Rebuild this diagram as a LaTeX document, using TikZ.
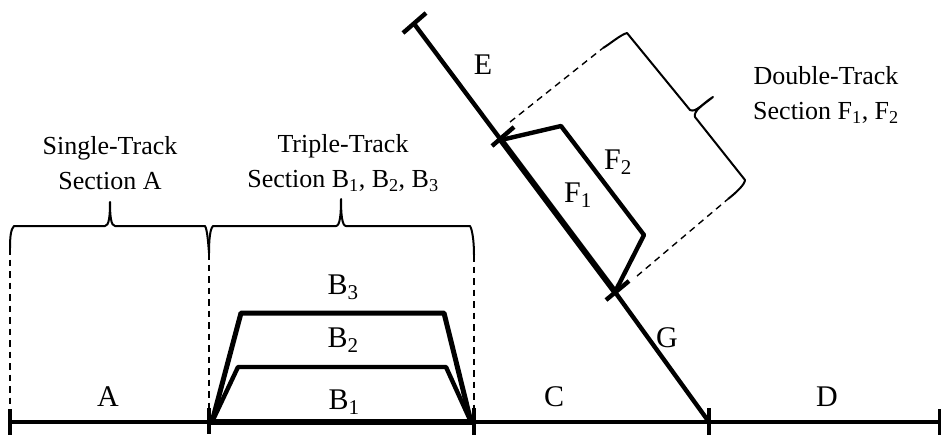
\documentclass[tikz,border=0pt]{standalone}
\usepackage{fontspec}
\setmainfont{Liberation Serif}
\usepackage{tikz}
\usetikzlibrary{positioning}

\begin{document}
\begin{tikzpicture}[
        x=1pt,
        y=-1pt,
        track/.style={line width=4.4pt},
        heavytrack/.style={line width=6pt},
        uppertrack/.style={line width=5pt, line join=round},
        tick/.style={line width=4.4pt},
        guide/.style={line width=1.4pt, dash pattern=on 6.5pt off 5pt},
        bracket/.style={line width=2pt, line join=round},
        seclabel/.style={align=center, font=\fontsize{26}{35}\selectfont, inner sep=0pt},
        tracklabel/.style={font=\fontsize{30}{34}\selectfont, inner sep=0pt}
    ]
        \useasboundingbox (0,0) rectangle (941,436);

        % Main line
        \coordinate (a) at (10,422);
        \coordinate (b) at (209,422);
        \coordinate (c) at (473,422);
        \coordinate (d) at (709,422);
        \coordinate (z) at (940,422);
        \draw[track] (a) -- (b);
        \draw[heavytrack] (b) -- (c);
        \draw[track] (c) -- (d);
        \draw[track] (d) -- (z);

        % Ticks
        \coordinate (a1) at (10,409);
        \coordinate (a2) at (10,435);
        \coordinate (b1) at (209,408);
        \coordinate (b2) at (209,434);
        \coordinate (c1) at (474,408);
        \coordinate (c2) at (474,435);
        \coordinate (d1) at (709,408);
        \coordinate (d2) at (709,435);
        \coordinate (z1) at (940,409);
        \coordinate (z2) at (940,435);
        \draw[tick] (a1) -- (a2);
        \draw[tick] (b1) -- (b2);
        \draw[tick] (c1) -- (c2);
        \draw[tick] (d1) -- (d2);
        \draw[tick] (z1) -- (z2);

        % Triple track
        \coordinate (p1) at (238,367);
        \coordinate (p2) at (446,367);
        \coordinate (q1) at (241,313);
        \coordinate (q2) at (444,313);
        \coordinate (bs) at (212,422);
        \coordinate (cs) at (471,422);
        \draw[track, line join=round] (bs) -- (p1) -- (p2) -- (cs);
        \draw[uppertrack] (bs) -- (q1) -- (q2) -- (cs);

        % Diagonal line
        \coordinate (e) at (415,25);
        \coordinate (e1) at (403,33);
        \coordinate (e2) at (426,13);
        \coordinate (f) at (501,140);
        \coordinate (f1) at (492,146);
        \coordinate (f2) at (514,127);
        \coordinate (g) at (615,292);
        \coordinate (g1) at (606,300);
        \coordinate (g2) at (629,281);
        \draw[tick] (e1) -- (e2);
        \draw[tick] (f1) -- (f2);
        \draw[tick] (g1) -- (g2);
        \draw[track] (e) -- (f);
        \draw[heavytrack] (f) -- (g);
        \draw[track] (g) -- (d);

        % Double track
        \coordinate (r1) at (561,126);
        \coordinate (r2) at (644,235);
        \draw[track, line join=round] (f) -- (r1) -- (r2) -- (g);

        % Dashed guides
        \coordinate (ga) at (10,248);
        \coordinate (gb) at (209,253);
        \coordinate (gc) at (474,255);
        \coordinate (gf1) at (510,122);
        \coordinate (gf2) at (603,48);
        \coordinate (gg1) at (637,276);
        \coordinate (gg2) at (728,199);
        \draw[guide] (ga) -- (a1);
        \draw[guide] (gb) -- (b1);
        \draw[guide] (gc) -- (c1);
        \draw[guide] (gf1) -- (gf2);
        \draw[guide] (gg1) -- (gg2);

        % Braces
        \coordinate (ba) at (14,226);
        \coordinate (ta) at (110,202);
        \coordinate (bb) at (205,226);
        \coordinate (bc) at (213,226);
        \coordinate (tb) at (341,199);
        \coordinate (bd) at (470,226);
        \coordinate (be) at (627,33);
        \coordinate (bf) at (745,180);
        \coordinate (tc) at (713,97);
        \draw[bracket] (ga) .. controls (10,236) and (11,229) .. (ba)
            -- (105,226) .. controls (109,226) and (110,216) .. (ta)
            .. controls (110,216) and (111,226) .. (115,226)
            -- (bb) .. controls (207,229) and (208,240) .. (gb);
        \draw[bracket] (gb) .. controls (209,240) and (210,229) .. (bc)
            -- (336,226) .. controls (340,226) and (341,214) .. (tb)
            .. controls (341,214) and (342,226) .. (346,226)
            -- (bd) .. controls (472,229) and (474,240) .. (gc);
        \draw[bracket] (gf2) .. controls (610,44) and (620,35) .. (be)
            -- (690,110) .. controls (696,113) and (703,103) .. (tc)
            .. controls (703,105) and (693,111) .. (695,117)
            -- (bf) .. controls (745,184) and (737,192) .. (gg2);

        % Section labels
        \node[seclabel] (single) at (110,163) {Single-Track\\Section A};
        \node[seclabel] (triple) at (343,163) {Triple-Track\\Section B\textsubscript{1}, B\textsubscript{2}, B\textsubscript{3}};
        \node[seclabel] (double) at (826,95) {Double-Track\\Section F\textsubscript{1}, F\textsubscript{2}};

        % Track labels
        \node[tracklabel] (la) at (108,397) {A};
        \node[tracklabel] (lb1) at (344,402) {B\textsubscript{1}};
        \node[tracklabel] (lb2) at (343,340) {B\textsubscript{2}};
        \node[tracklabel] (lb3) at (343,287) {B\textsubscript{3}};
        \node[tracklabel] (lc) at (554,397) {C};
        \node[tracklabel] (ld) at (827,397) {D};
        \node[tracklabel] (le) at (483,65) {E};
        \node[tracklabel] (lf1) at (578,195) {F\textsubscript{1}};
        \node[tracklabel] (lf2) at (618,162) {F\textsubscript{2}};
        \node[tracklabel] (lg) at (667,338) {G};

    \end{tikzpicture}
\end{document}
